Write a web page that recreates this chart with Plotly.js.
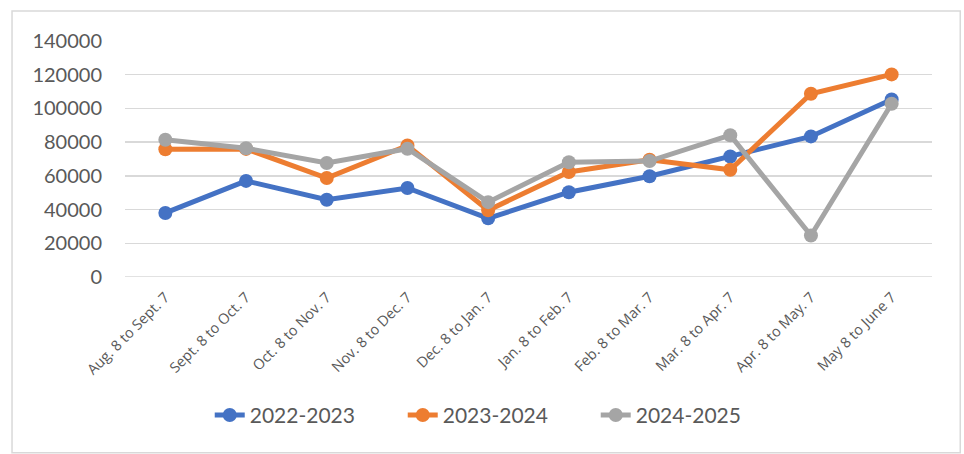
<!DOCTYPE html>
<html>
<head>
<meta charset="utf-8">
<script src="https://cdn.plot.ly/plotly-3.0.1.min.js"></script>
<style>html,body{margin:0;padding:0;background:#fff;}#chart{width:964px;height:454px;}</style>
</head>
<body>
<div id="chart"></div>
<script>
var categories = ["Aug. 8 to Sept. 7","Sept. 8 to Oct. 7","Oct. 8 to Nov. 7","Nov. 8 to Dec. 7","Dec. 8 to Jan. 7","Jan. 8 to Feb. 7","Feb. 8 to Mar. 7","Mar. 8 to Apr. 7","Apr. 8 to May. 7","May 8 to June 7"];
var series2022 = [38000, 57000, 45800, 52800, 34800, 50300, 59800, 71500, 83400, 105300];
var series2023 = [75800, 76000, 58700, 78000, 39600, 62300, 69600, 63600, 108700, 120200];
var series2024 = [81400, 76400, 67600, 76100, 44400, 68100, 68800, 84100, 24600, 102800];
var seriesNames = ["2022-2023","2023-2024","2024-2025"];
var yTicks = [0,20000,40000,60000,80000,100000,120000,140000];

var colors = ["#4472c4","#ed7d31","#a5a5a5"];
var all = [series2022, series2023, series2024];
var traces = all.map(function(s,i){
  return {
    x: categories, y: s, name: seriesNames[i], type: 'scatter', mode: 'lines+markers',
    line: {color: colors[i], width: 5},
    marker: {color: colors[i], size: 14}
  };
});

var layout = {
  width: 964, height: 454,
  margin: {l: 125, r: 32, t: 41, b: 177, autoexpand: false},
  paper_bgcolor: '#ffffff', plot_bgcolor: 'rgba(0,0,0,0)',
  font: {family: 'Lato, "Open Sans", sans-serif', color: '#595959'},
  showlegend: true,
  legend: {orientation: 'h', x: 0.105, xanchor: 'left', y: -0.586, yanchor: 'middle',
           font: {size: 21, color: '#595959'}, itemwidth: 30, entrywidth: 148,
           traceorder: 'normal'},
  xaxis: {type: 'category', range: [-0.5, 9.5], showgrid: false, zeroline: false,
          showline: false, ticks: '', tickangle: -45, ticklabelstandoff: 8,
          tickfont: {family: 'Open Sans', size: 14.5, color: '#595959'}},
  yaxis: {range: [0, 140000], tickvals: yTicks, ticktext: yTicks.map(String),
          showgrid: true, gridcolor: '#d9d9d9', gridwidth: 1.5, zeroline: false,
          showline: false, ticks: '', ticklabelstandoff: 22,
          tickfont: {size: 20, color: '#595959'}},
  shapes: [{type: 'rect', xref: 'paper', yref: 'paper', layer: 'below',
            x0: -0.140, x1: 1.035, y0: -0.745, y1: 1.127,
            line: {color: '#d9d9d9', width: 1.5}, fillcolor: 'rgba(0,0,0,0)'},
           {type: 'line', xref: 'paper', yref: 'y', x0: 0, x1: 1, y0: 0, y1: 0,
            layer: 'below', line: {color: '#d9d9d9', width: 1.5}}]
};
Plotly.newPlot('chart', traces, layout, {displayModeBar: false, staticPlot: true});
</script>
</body>
</html>
